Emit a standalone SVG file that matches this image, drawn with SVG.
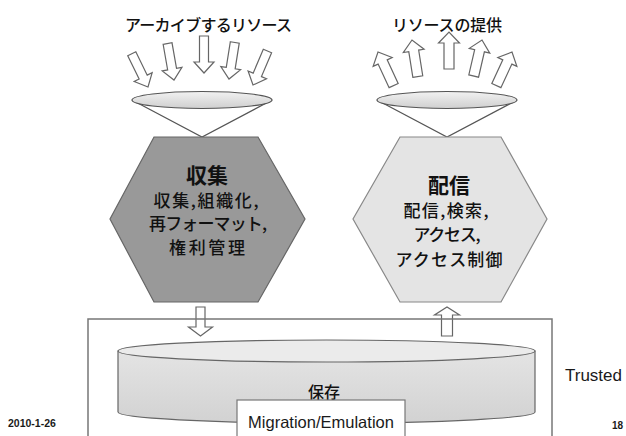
<svg xmlns="http://www.w3.org/2000/svg" width="626" height="436" viewBox="0 0 626 436">
<defs>
<linearGradient id="lens" x1="0" y1="0" x2="0" y2="1">
<stop offset="0" stop-color="#f2f2f2"/>
<stop offset="1" stop-color="#cfcfcf"/>
</linearGradient>
<linearGradient id="cyl" x1="0" y1="0" x2="0" y2="1">
<stop offset="0" stop-color="#e4e4e4"/>
<stop offset="1" stop-color="#d2d2d2"/>
</linearGradient>
<path id="down" d="M-4.5,-37 L4.5,-37 L4.5,-11 L10,-11 L0,0 L-10,-11 L-4.5,-11 Z"/>
<path id="up" d="M-5,37 L5,37 L5,11 L10.5,11 L0,0 L-10.5,11 L-5,11 Z"/>
</defs>
<style>
.arr{fill:#fff;stroke:#666;stroke-width:1.2}
.lens{fill:url(#lens);stroke:#555;stroke-width:1.2}
.cone{fill:none;stroke:#555;stroke-width:1.2}
.jp{font-family:"Noto Sans CJK JP","Noto Sans",sans-serif;fill:#111}
.lat{font-family:"Liberation Sans",Arial,sans-serif;fill:#1a1a1a}
.ttl{font-size:21px;font-weight:bold;text-anchor:middle}
.body{font-size:17px;text-anchor:middle;font-weight:500}
.top{font-size:16px;font-weight:500}
</style>
<rect width="626" height="436" fill="#fff"/>

<g id="label-archive">
<text class="jp top" x="125" y="31" textLength="167" lengthAdjust="spacing">アーカイブするリソース</text>
</g>
<g id="label-provide">
<text class="jp top" x="392" y="31" textLength="110" lengthAdjust="spacing">リソースの提供</text>
</g>

<g id="connectors">
<use href="#down" class="arr" transform="translate(148,87) rotate(-26)"/>
<use href="#down" class="arr" transform="translate(174,80) rotate(-10)"/>
<use href="#down" class="arr" transform="translate(204,73)"/>
<use href="#down" class="arr" transform="translate(229,79) rotate(9)"/>
<use href="#down" class="arr" transform="translate(253,85) rotate(23)"/>
<use href="#up" class="arr" transform="translate(378,52) rotate(-25)"/>
<use href="#up" class="arr" transform="translate(412,40) rotate(-9)"/>
<use href="#up" class="arr" transform="translate(449,32)"/>
<use href="#up" class="arr" transform="translate(482,40) rotate(13)"/>
<use href="#up" class="arr" transform="translate(512,52) rotate(25)"/>
<path class="arr" d="M196,307 L205,307 L205,327 L212.5,327 L200.5,336 L188.5,327 L196,327 Z"/>
<path class="arr" d="M441.5,336 L452.5,336 L452.5,315 L459.5,315 L447,307 L434.5,315 L441.5,315 Z"/>
</g>

<g id="funnel-left">
<path class="cone" d="M132,100 L202,137 L272,100"/>
<ellipse class="lens" cx="202" cy="100" rx="70" ry="8.5"/>
</g>
<g id="funnel-right">
<path class="cone" d="M377,100 L447,137 L517,100"/>
<ellipse class="lens" cx="447" cy="100" rx="70" ry="8.5"/>
</g>

<g id="node-collect">
<polygon points="154,137 258,137 305,219 258,302 154,302 110,219" fill="#999" stroke="#666" stroke-width="1.2"/>
<text class="jp ttl" x="207" y="183">収集</text>
<text class="jp body" x="206" y="207" textLength="105" lengthAdjust="spacing">収集,組織化,</text>
<text class="jp body" x="208" y="230" textLength="118" lengthAdjust="spacing">再フォーマット,</text>
<text class="jp body" x="207" y="254" textLength="76" lengthAdjust="spacing">権利管理</text>
</g>

<g id="node-deliver">
<polygon points="400,137 501,137 547,219 501,302 400,302 353,219" fill="#e4e4e4" stroke="#888" stroke-width="1.2"/>
<text class="jp ttl" x="449" y="193">配信</text>
<text class="jp body" x="446" y="217" textLength="85" lengthAdjust="spacing">配信,検索,</text>
<text class="jp body" x="447" y="241" textLength="67" lengthAdjust="spacing">アクセス,</text>
<text class="jp body" x="449" y="266" textLength="107" lengthAdjust="spacing">アクセス制御</text>
</g>

<g id="node-trusted">
<rect x="88" y="319" width="464" height="130" fill="none" stroke="#777" stroke-width="1.5"/>
</g>

<g id="node-preserve">
<path d="M118,351 L118,412 A208.5,11 0 0 0 535,412 L535,351 Z" fill="url(#cyl)" stroke="#666" stroke-width="1.2"/>
<ellipse cx="326.5" cy="351" rx="208.5" ry="11" fill="#ebebeb" stroke="#666" stroke-width="1.2"/>
<text class="jp" x="324" y="398" font-size="16" text-anchor="middle" font-weight="500">保存</text>
</g>

<g id="node-migration">
<rect x="237" y="400" width="168" height="50" fill="#fff" stroke="#777" stroke-width="1.2"/>
<text class="lat" x="321" y="428" font-size="16.5" text-anchor="middle">Migration/Emulation</text>
</g>

<g id="footer">
<text class="lat" x="8" y="427" font-size="10.5" font-weight="bold" fill="#333">2010-1-26</text>
<text class="lat" x="565" y="381" font-size="17">Trusted</text>
<text class="lat" x="612" y="429" font-size="10" font-weight="bold" fill="#333">18</text>
</g>
</svg>
